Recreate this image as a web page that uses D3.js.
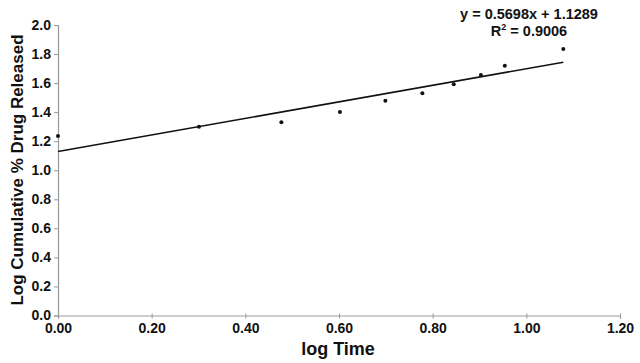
<!DOCTYPE html>
<html lang="en">
  <head>
    <meta charset="utf-8">
    <title>Log Cumulative % Drug Released vs log Time</title>
    <script type="text/javascript" src="https://d3js.org/d3.v7.min.js"></script>
    <style type="text/css">
        body { margin: 0; background: #fff; }
        text {
            font-family: "Liberation Sans", Arial, sans-serif;
            font-weight: bold;
            fill: #111;
        }
    </style>
  </head>
  <body>
    <svg id="chart" width="640" height="363"></svg>
    <script type="text/javascript">

      // log time vs log cumulative % released
      var logTime = [0, 0.301, 0.477, 0.602, 0.699, 0.778, 0.845, 0.903, 0.954, 1.079];
      var logRelease = [1.236, 1.30, 1.33, 1.401, 1.479, 1.53, 1.592, 1.656, 1.72, 1.835];

      // trendline from the chart
      var slope = 0.5698, intercept = 1.1289;
      var eqLabel = "y = 0.5698x + 1.1289";
      var r2Label = "0.9006";

      var xTicks = [0, 0.2, 0.4, 0.6, 0.8, 1.0, 1.2];
      var yTicks = [0, 0.2, 0.4, 0.6, 0.8, 1.0, 1.2, 1.4, 1.6, 1.8, 2.0];

      var svg = d3.select("#chart");
      var plotLeft = 58, plotRight = 620, plotTop = 25, plotBottom = 315.5;

      var x = d3.scaleLinear().domain([0, 1.2]).range([plotLeft, plotRight]);
      var y = d3.scaleLinear().domain([0, 2.0]).range([plotBottom, plotTop]);

      //axes
      var yAxis = svg.append("g")
          .attr("transform", "translate(" + plotLeft + ",0)")
          .call(d3.axisLeft(y).tickValues(yTicks).tickSize(4).tickPadding(3)
                  .tickFormat(d3.format(".1f")));
      var xAxis = svg.append("g")
          .attr("transform", "translate(0," + plotBottom + ")")
          .call(d3.axisBottom(x).tickValues(xTicks).tickSize(3).tickPadding(5)
                  .tickFormat(d3.format(".2f")));

      [xAxis, yAxis].forEach(function(a) {
        a.select(".domain").attr("stroke", "#999").attr("stroke-width", 1.2);
        a.selectAll(".tick line").attr("stroke", "#999");
        a.selectAll("text").attr("font-size", 14)
          .attr("font-family", "'Liberation Sans', Arial, sans-serif")
          .attr("font-weight", "bold").attr("fill", "#111");
      });
      xAxis.selectAll(".tick line").attr("y1", -2);

      //trendline
      var xMax = d3.max(logTime);
      svg.append("line")
          .attr("x1", x(0)).attr("y1", y(intercept))
          .attr("x2", x(xMax)).attr("y2", y(slope * xMax + intercept))
          .attr("stroke", "#111").attr("stroke-width", 1.6);

      //points
      svg.selectAll("circle")
          .data(logTime)
          .enter()
          .append("circle")
          .attr("cx", function(d) { return x(d); })
          .attr("cy", function(d, i) { return y(logRelease[i]); })
          .attr("r", 2)
          .attr("fill", "#111");

      //equation
      svg.append("text")
          .attr("x", 529).attr("y", 19)
          .attr("text-anchor", "middle").attr("font-size", 14.5)
          .text(eqLabel);
      var r2 = svg.append("text")
          .attr("x", 529).attr("y", 36)
          .attr("text-anchor", "middle").attr("font-size", 14.5);
      r2.append("tspan").text("R");
      r2.append("tspan").attr("font-size", 9).attr("dy", -6).text("2");
      r2.append("tspan").attr("dy", 6).text(" = " + r2Label);

      //axis titles
      svg.append("text")
          .attr("x", 338).attr("y", 355)
          .attr("text-anchor", "middle").attr("font-size", 18)
          .text("log Time");
      svg.append("text")
          .attr("transform", "translate(23,170) rotate(-90)")
          .attr("text-anchor", "middle").attr("font-size", 17)
          .text("Log Cumulative % Drug Released");
    </script>
  </body>
</html>
